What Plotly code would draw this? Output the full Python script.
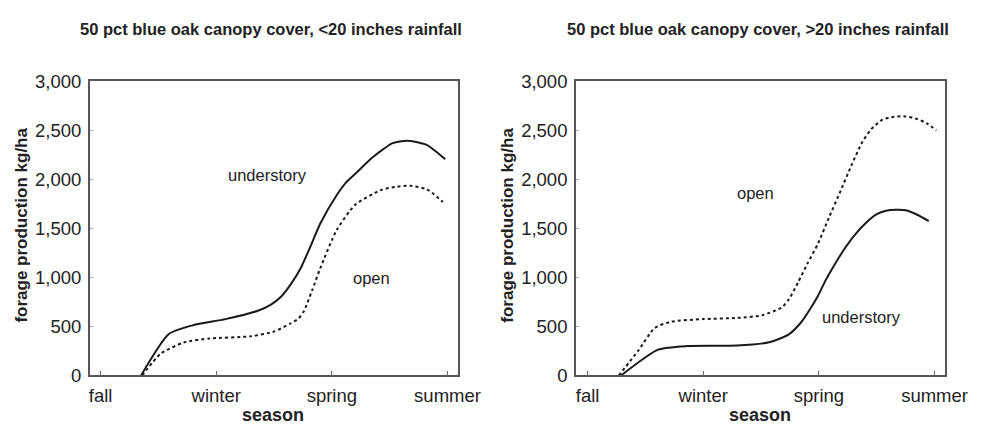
import plotly.graph_objects as go

# season positions: fall=0, winter=1, spring=2, summer=3
season_ticks = [0, 1, 2, 3]
season_labels = ["fall", "winter", "spring", "summer"]
y_ticks = [0, 500, 1000, 1500, 2000, 2500, 3000]

# Left panel: <20 inches rainfall
left_under_x = [0.35, 0.59, 0.80, 1.08, 1.36, 1.47, 1.56, 1.65, 1.73, 1.82, 1.90, 2.04, 2.12, 2.21, 2.35, 2.52, 2.60, 2.68, 2.82, 2.98]
left_under_y = [0, 423, 513, 575, 660, 720, 803, 940, 1094, 1330, 1550, 1836, 1965, 2065, 2223, 2368, 2390, 2392, 2352, 2206]
left_open_x = [0.36, 0.52, 0.72, 0.94, 1.30, 1.50, 1.64, 1.71, 1.76, 1.83, 1.90, 2.04, 2.20, 2.42, 2.55, 2.68, 2.82, 2.96]
left_open_y = [0, 223, 336, 377, 400, 448, 529, 580, 660, 870, 1094, 1480, 1739, 1890, 1925, 1935, 1900, 1771]

# Right panel: >20 inches rainfall
right_under_x = [0.29, 0.61, 0.86, 1.29, 1.57, 1.74, 1.85, 1.92, 1.99, 2.06, 2.13, 2.22, 2.30, 2.41, 2.50, 2.58, 2.67, 2.75, 2.85, 2.95]
right_under_y = [0, 263, 300, 305, 338, 419, 548, 670, 808, 975, 1120, 1290, 1420, 1560, 1645, 1680, 1690, 1685, 1640, 1575]
right_open_x = [0.27, 0.44, 0.58, 0.72, 1.00, 1.29, 1.51, 1.68, 1.74, 1.82, 1.90, 1.99, 2.09, 2.19, 2.28, 2.37, 2.45, 2.55, 2.65, 2.75, 2.85, 2.93, 3.015]
right_open_y = [0, 256, 484, 548, 575, 587, 614, 695, 776, 950, 1140, 1340, 1620, 1890, 2140, 2370, 2510, 2610, 2640, 2643, 2615, 2575, 2500]

titles = ["50 pct blue oak canopy cover, <20 inches rainfall",
          "50 pct blue oak canopy cover, >20 inches rainfall"]

W, H = 1003, 434
FONT = "Liberation Sans, Arial, sans-serif"
INK = "#222222"

fig = go.Figure()

solid = dict(color="#1a1a1a", width=2, shape="spline", smoothing=0.6)
dotted = dict(color="#1a1a1a", width=2, dash="dot", shape="spline", smoothing=0.6)

fig.add_trace(go.Scatter(x=left_under_x, y=left_under_y, mode="lines", line=solid, xaxis="x", yaxis="y", showlegend=False))
fig.add_trace(go.Scatter(x=left_open_x, y=left_open_y, mode="lines", line=dotted, xaxis="x", yaxis="y", showlegend=False))
fig.add_trace(go.Scatter(x=right_under_x, y=right_under_y, mode="lines", line=solid, xaxis="x2", yaxis="y2", showlegend=False))
fig.add_trace(go.Scatter(x=right_open_x, y=right_open_y, mode="lines", line=dotted, xaxis="x2", yaxis="y2", showlegend=False))

def xax(domain, rng, anchor):
    return dict(domain=domain, range=rng, anchor=anchor, tickvals=season_ticks, ticktext=season_labels,
                ticks="inside", ticklen=5, tickcolor="#666", showline=True, mirror=True,
                linecolor="#555", linewidth=1.5, showgrid=False, zeroline=False,
                tickfont=dict(family=FONT, size=18.5, color=INK), ticklabelstandoff=3)

def yax(domain, anchor):
    return dict(domain=domain, range=[0, 3000], anchor=anchor, tickvals=y_ticks, tickformat=",",
                ticks="inside", ticklen=3, tickcolor="#aaa", showline=True, mirror=True,
                linecolor="#555", linewidth=1.5, showgrid=False, zeroline=False,
                tickfont=dict(family=FONT, size=18.5, color=INK), ticklabelstandoff=3)

yd = [1 - 383 / H, 1 - 74 / H]
fig.update_layout(
    width=W, height=H, margin=dict(l=0, r=0, t=0, b=0),
    paper_bgcolor="white", plot_bgcolor="white",
    xaxis=xax([91 / W, 468 / W], [-0.093, 3.089], "y"),
    yaxis=yax(yd, "x"),
    xaxis2=xax([589 / W, 967 / W], [-0.101, 3.089], "y2"),
    yaxis2=yax(yd, "x2"),
)

ann = []
for cx, t in [(277, titles[0]), (776, titles[1])]:
    ann.append(dict(text="<b>%s</b>" % t, x=cx / W, y=1 - 19 / H, xref="paper", yref="paper",
                    showarrow=False, font=dict(family=FONT, size=16.5, color=INK), xanchor="center", yanchor="middle"))
for cx in [21, 519]:
    ann.append(dict(text="<b>forage production kg/ha</b>", x=cx / W, y=1 - 225 / H, xref="paper", yref="paper",
                    showarrow=False, textangle=-90, font=dict(family=FONT, size=17, color=INK),
                    xanchor="center", yanchor="middle"))
for cx in [279, 778]:
    ann.append(dict(text="<b>season</b>", x=cx / W, y=1 - 425 / H, xref="paper", yref="paper",
                    showarrow=False, font=dict(family=FONT, size=18, color=INK), xanchor="center", yanchor="middle"))
# curve labels in data coordinates
ann.append(dict(text="understory", x=1.443, y=2042, xref="x", yref="y", showarrow=False,
                font=dict(family=FONT, size=16.5, color=INK)))
ann.append(dict(text="open", x=2.346, y=997, xref="x", yref="y", showarrow=False,
                font=dict(family=FONT, size=16.5, color=INK)))
ann.append(dict(text="open", x=1.451, y=1860, xref="x2", yref="y2", showarrow=False,
                font=dict(family=FONT, size=16.5, color=INK)))
ann.append(dict(text="understory", x=2.371, y=594, xref="x2", yref="y2", showarrow=False,
                font=dict(family=FONT, size=16.5, color=INK)))
fig.update_layout(annotations=ann)

post = (
    "document.documentElement.style.margin='0';"
    "document.body.style.margin='0';"
    "document.documentElement.style.overflow='hidden';"
    "document.body.style.overflow='hidden';"
    "var gd=document.getElementById('{plot_id}');"
    "gd.style.position='fixed';gd.style.left='0px';gd.style.top='0px';"
)
fig.write_html("out.html", config={"displayModeBar": False}, post_script=post)
